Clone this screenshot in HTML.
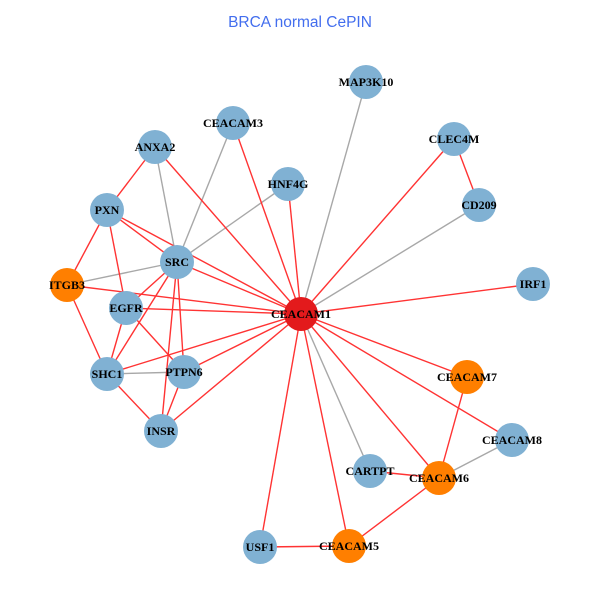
<!DOCTYPE html>
<html><head><meta charset="utf-8"><style>
html,body{margin:0;padding:0;background:#fff;}
svg{display:block;}
text.l{font-family:"Liberation Serif",serif;font-weight:bold;font-size:12px;fill:#000;text-anchor:middle;}
</style></head><body>
<svg width="600" height="600" viewBox="0 0 600 600" xmlns="http://www.w3.org/2000/svg">
<rect width="600" height="600" fill="#fff"/>
<text x="300" y="27" font-family="Liberation Sans, sans-serif" font-size="15.5" fill="#436EEE" text-anchor="middle">BRCA normal CePIN</text>
<g stroke-width="1.4" fill="none">
<g stroke="#A8A8A8">
<line x1="301" y1="314" x2="366" y2="82"/>
<line x1="301" y1="314" x2="479" y2="205"/>
<line x1="301" y1="314" x2="370" y2="471"/>
<line x1="177" y1="262" x2="155" y2="147"/>
<line x1="177" y1="262" x2="233" y2="123"/>
<line x1="177" y1="262" x2="288" y2="184"/>
<line x1="177" y1="262" x2="67" y2="285"/>
<line x1="107" y1="374" x2="184" y2="372"/>
<line x1="439" y1="478" x2="512" y2="440"/>
</g>
<g stroke="#FF3333">
<line x1="301" y1="314" x2="454" y2="139"/>
<line x1="301" y1="314" x2="288" y2="184"/>
<line x1="301" y1="314" x2="233" y2="123"/>
<line x1="301" y1="314" x2="155" y2="147"/>
<line x1="301" y1="314" x2="107" y2="210"/>
<line x1="301" y1="314" x2="177" y2="262"/>
<line x1="301" y1="314" x2="67" y2="285"/>
<line x1="301" y1="314" x2="126" y2="308"/>
<line x1="301" y1="314" x2="107" y2="374"/>
<line x1="301" y1="314" x2="184" y2="372"/>
<line x1="301" y1="314" x2="161" y2="431"/>
<line x1="301" y1="314" x2="533" y2="284"/>
<line x1="301" y1="314" x2="467" y2="377"/>
<line x1="301" y1="314" x2="512" y2="440"/>
<line x1="301" y1="314" x2="439" y2="478"/>
<line x1="301" y1="314" x2="349" y2="546"/>
<line x1="301" y1="314" x2="260" y2="547"/>
<line x1="454" y1="139" x2="479" y2="205"/>
<line x1="177" y1="262" x2="107" y2="210"/>
<line x1="177" y1="262" x2="126" y2="308"/>
<line x1="177" y1="262" x2="107" y2="374"/>
<line x1="177" y1="262" x2="184" y2="372"/>
<line x1="177" y1="262" x2="161" y2="431"/>
<line x1="155" y1="147" x2="107" y2="210"/>
<line x1="107" y1="210" x2="67" y2="285"/>
<line x1="107" y1="210" x2="126" y2="308"/>
<line x1="67" y1="285" x2="107" y2="374"/>
<line x1="126" y1="308" x2="107" y2="374"/>
<line x1="126" y1="308" x2="184" y2="372"/>
<line x1="107" y1="374" x2="161" y2="431"/>
<line x1="184" y1="372" x2="161" y2="431"/>
<line x1="439" y1="478" x2="467" y2="377"/>
<line x1="439" y1="478" x2="370" y2="471"/>
<line x1="439" y1="478" x2="349" y2="546"/>
<line x1="349" y1="546" x2="260" y2="547"/>
</g>
</g>
<g>
<circle cx="366" cy="82" r="17" fill="#80B1D3"/>
<circle cx="233" cy="123" r="17" fill="#80B1D3"/>
<circle cx="454" cy="139" r="17" fill="#80B1D3"/>
<circle cx="155" cy="147" r="17" fill="#80B1D3"/>
<circle cx="288" cy="184" r="17" fill="#80B1D3"/>
<circle cx="479" cy="205" r="17" fill="#80B1D3"/>
<circle cx="107" cy="210" r="17" fill="#80B1D3"/>
<circle cx="177" cy="262" r="17" fill="#80B1D3"/>
<circle cx="67" cy="285" r="17" fill="#FF7F00"/>
<circle cx="533" cy="284" r="17" fill="#80B1D3"/>
<circle cx="126" cy="308" r="17" fill="#80B1D3"/>
<circle cx="301" cy="314" r="17" fill="#E31A1C"/>
<circle cx="107" cy="374" r="17" fill="#80B1D3"/>
<circle cx="184" cy="372" r="17" fill="#80B1D3"/>
<circle cx="467" cy="377" r="17" fill="#FF7F00"/>
<circle cx="161" cy="431" r="17" fill="#80B1D3"/>
<circle cx="512" cy="440" r="17" fill="#80B1D3"/>
<circle cx="370" cy="471" r="17" fill="#80B1D3"/>
<circle cx="439" cy="478" r="17" fill="#FF7F00"/>
<circle cx="260" cy="547" r="17" fill="#80B1D3"/>
<circle cx="349" cy="546" r="17" fill="#FF7F00"/>
</g>
<g>
<text class="l" x="366" y="86">MAP3K10</text>
<text class="l" x="233" y="127">CEACAM3</text>
<text class="l" x="454" y="143">CLEC4M</text>
<text class="l" x="155" y="151">ANXA2</text>
<text class="l" x="288" y="188">HNF4G</text>
<text class="l" x="479" y="209">CD209</text>
<text class="l" x="107" y="214">PXN</text>
<text class="l" x="177" y="266">SRC</text>
<text class="l" x="67" y="289">ITGB3</text>
<text class="l" x="533" y="288">IRF1</text>
<text class="l" x="126" y="312">EGFR</text>
<text class="l" x="301" y="318">CEACAM1</text>
<text class="l" x="107" y="378">SHC1</text>
<text class="l" x="184" y="376">PTPN6</text>
<text class="l" x="467" y="381">CEACAM7</text>
<text class="l" x="161" y="435">INSR</text>
<text class="l" x="512" y="444">CEACAM8</text>
<text class="l" x="370" y="475">CARTPT</text>
<text class="l" x="439" y="482">CEACAM6</text>
<text class="l" x="260" y="551">USF1</text>
<text class="l" x="349" y="550">CEACAM5</text>
</g>
</svg>
</body></html>
